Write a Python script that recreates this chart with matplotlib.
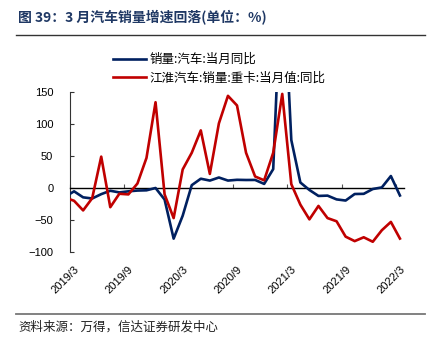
import matplotlib
matplotlib.use("Agg")
import matplotlib.pyplot as plt
import matplotlib.transforms as mtransforms
import numpy as np
from matplotlib.lines import Line2D

plt.rcParams['font.family'] = ['Noto Sans CJK SC', 'DejaVu Sans']

# monthly, 2019/2 .. 2022/3 (first point sits left of the axis and gets clipped)
months = ['2019/2'] + [f'{y}/{m}' for y in (2019, 2020, 2021) for m in range(1, 13) if not (y == 2019 and m < 3)] + ['2022/1', '2022/2', '2022/3']
car_yoy = [-13.8, -5.2, -14.6, -16.4, -9.6, -4.3, -6.9, -5.2, -4.0, -3.6, 0.0,
           -18.0, -79.1, -43.3, 4.4, 14.5, 11.6, 16.4, 11.6, 12.8, 12.5, 12.6, 6.4,
           29.5, 365.0, 74.9, 8.6, -3.1, -12.4, -11.9, -17.8, -19.6, -9.4, -9.1, -1.6,
           0.9, 18.7, -11.7]
jac_truck_yoy = [-15, -20, -35, -16, 49, -30, -9, -10, 7, 47, 134,
                 -10, -47, 29, 55, 90, 22, 101, 144, 129, 55, 18, 12,
                 55, 147, 6, -26, -49, -28, -47, -52, -76, -83, -77, -84,
                 -66, -53, -79]
tick_labels = ['2019/3', '2019/9', '2020/3', '2020/9', '2021/3', '2021/9', '2022/3']
y_ticks = [-100, -50, 0, 50, 100, 150]

x = np.arange(len(months)) - 1  # 2019/3 -> 0
tick_pos = [months.index(t) - 1 - 0.45 for t in tick_labels]

fig = plt.figure(figsize=(4.34, 3.53), dpi=100)
ax = fig.add_axes([70 / 434, 1 - 252 / 353, (404 - 70) / 434, (252 - 92) / 353])

navy = '#002060'
red = '#C00000'
l1, = ax.plot(x, car_yoy, color=navy, lw=1.9, label='销量:汽车:当月同比', zorder=3)
l2, = ax.plot(x, jac_truck_yoy, color=red, lw=1.9, label='江淮汽车:销量:重卡:当月值:同比', zorder=3)

ax.set_xlim(-0.45, 36.45)
ax.set_ylim(-100, 150)
ax.set_yticks(y_ticks)
ax.tick_params(axis='y', direction='in', length=3, labelsize=8, pad=12, colors='#333333')
for lab in ax.get_yticklabels():
    lab.set_fontfamily(['Liberation Sans', 'DejaVu Sans'])
    lab.set_color('black')

for s in ['top', 'right']:
    ax.spines[s].set_visible(False)
ax.spines['left'].set_color('#333333')
ax.spines['bottom'].set_position(('data', 0))
ax.spines['bottom'].set_color('black')
ax.spines['bottom'].set_linewidth(1.0)
ax.set_xticks(tick_pos)
ax.tick_params(axis='x', direction='in', length=3, labelbottom=False, colors='#555555')

sec = ax.secondary_xaxis('bottom')
sec.set_xticks(tick_pos)
sec.set_xticklabels(tick_labels, rotation=45, ha='right', rotation_mode='anchor',
                    fontsize=8, family=['Liberation Sans', 'DejaVu Sans'])
sec.tick_params(length=0, pad=9)
sec.spines['bottom'].set_visible(False)
shift = mtransforms.ScaledTranslation(4 / 100, 0, fig.dpi_scale_trans)
for lab in sec.get_xticklabels():
    lab.set_transform(lab.get_transform() + shift)

fig.legend(handles=[l1, l2], loc='upper left', bbox_to_anchor=(113 / 434, 1 - 53 / 353),
           frameon=False, fontsize=9, handlelength=2.6, handletextpad=0.3,
           labelspacing=0.45, borderaxespad=0, borderpad=0)

fig.text(18 / 434, 1 - 18 / 353, '图 39：3 月汽车销量增速回落(单位：%)', fontsize=10,
         fontweight='bold', color='#1F3864', va='center', ha='left')
fig.add_artist(Line2D([16 / 434, 425 / 434], [1 - 35 / 353] * 2, color='#333333',
                      lw=1.0, transform=fig.transFigure))
fig.add_artist(Line2D([16 / 434, 425 / 434], [1 - 314 / 353] * 2, color='#777777',
                      lw=1.3, transform=fig.transFigure))
fig.text(18 / 434, 1 - 327 / 353, '资料来源：万得，信达证券研发中心', fontsize=9,
         color='#222222', va='center', ha='left', style='italic')

fig.savefig('out.png', dpi=100)
